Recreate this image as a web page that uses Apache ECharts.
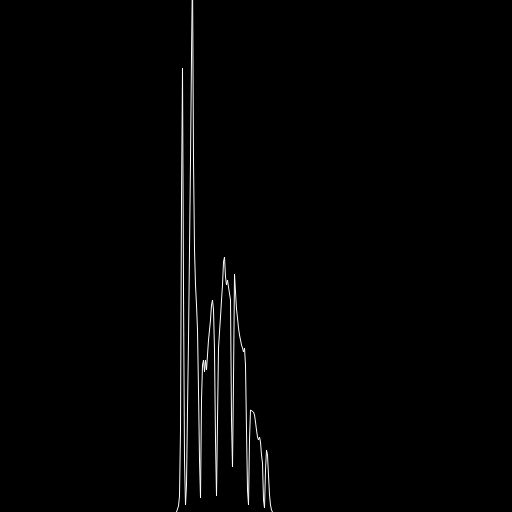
<!DOCTYPE html>
<html>
<head>
<meta charset="utf-8">
<script src="https://cdn.jsdelivr.net/npm/echarts@6/dist/echarts.min.js"></script>
<style>
html,body{margin:0;padding:0;background:#000;}
#chart{width:512px;height:512px;}
</style>
</head>
<body>
<div id="chart"></div>
<script>
var channels = [176,177,178,179,180,181,182,183,184,185,186,187,188,189,190,191,192,193,194,195,196,197,198,199,200,201,202,203,204,205,206,207,208,209,210,211,212,213,214,215,216,217,218,219,220,221,222,223,224,225,226,227,228,229,230,231,232,233,234,235,236,237,238,239,240,241,242,243,244,245,246,247,248,249,250,251,252,253,254,255,256,257,258,259,260,261,262,263,264,265,266,267,268,269,270,271,272];
var intensity = [0,0,6,16,82,312,444,222,52,7,27,102,172,262,352,457,542,352,262,227,207,182,122,52,14,112,147,152,140,152,142,157,172,182,192,207,212,202,162,72,16,92,164,180,195,212,227,250,255,235,227,232,225,227,212,92,45,132,238,220,203,194,184,177,172,167,164,160,164,147,82,22,7,72,102,100,104,100,97,90,82,75,72,75,70,57,49,12,4,42,62,57,37,17,7,2,0];

var chart = echarts.init(document.getElementById('chart'));
var pts = channels.map(function(c, i){ return [c, intensity[i]]; });
chart.setOption({
  backgroundColor: '#000000',
  animation: false,
  grid: {left: 0, right: 0, top: 0, bottom: 0},
  xAxis: {type: 'value', min: -0.5, max: 511.5, show: false},
  yAxis: {type: 'value', min: 0, max: 512, show: false},
  series: [{
    type: 'line',
    data: pts,
    showSymbol: false,
    symbol: 'none',
    silent: true,
    lineStyle: {color: '#ffffff', width: 1}
  }]
});
</script>
</body>
</html>
